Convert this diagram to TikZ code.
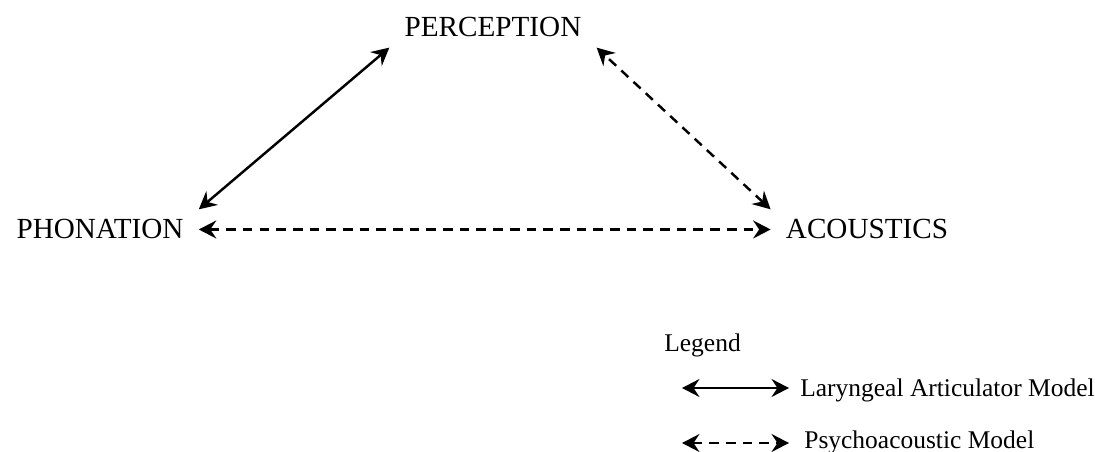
\documentclass[tikz,border=0pt]{standalone}
\usepackage{fontspec}
\setmainfont{Liberation Serif}
\usetikzlibrary{arrows.meta}

\begin{document}
\begin{tikzpicture}[x=0.02cm, y=-0.02cm,
        lbl/.style={font=\fontsize{16.6}{20}\selectfont, inner xsep=0.3cm, inner ysep=0.2cm, anchor=base},
        leg/.style={font=\fontsize{14.5}{17}\selectfont, inner sep=0pt, anchor=base west},
        arr/.style={{Stealth[length=3.5mm,width=3.6mm,inset=1.2mm]}-{Stealth[length=3.5mm,width=3.6mm,inset=1.2mm]},
                    line width=1.4pt, black},
        darr/.style={arr, dash pattern=on 5.5pt off 4pt}]
      \useasboundingbox (0,0) rectangle (1095,452);
      % the three corners
      \node[lbl] (per) at (493,37) {PERCEPTION};
      \node[lbl] (pho) at (100,239) {PHONATION};
      \node[lbl] (aco) at (867,239) {ACOUSTICS};
      \draw[arr] (pho.north east) -- (per.south west);
      \draw[darr] (aco.north west) -- (per.south east);
      \draw[darr] (pho.east) -- (aco.west);
      % legend
      \node[leg] (leg) at (664,352) {Legend};
      \coordinate (la1) at (682,388);
      \coordinate (la2) at (789,388);
      \coordinate (pa1) at (682,443);
      \coordinate (pa2) at (789,443);
      \draw[arr] (la1) -- (la2);
      \draw[darr] (pa1) -- (pa2);
      \node[leg] (lam) at (800,397) {Laryngeal Articulator Model};
      \node[leg] (pam) at (804,448) {Psychoacoustic Model};
    \end{tikzpicture}
\end{document}
